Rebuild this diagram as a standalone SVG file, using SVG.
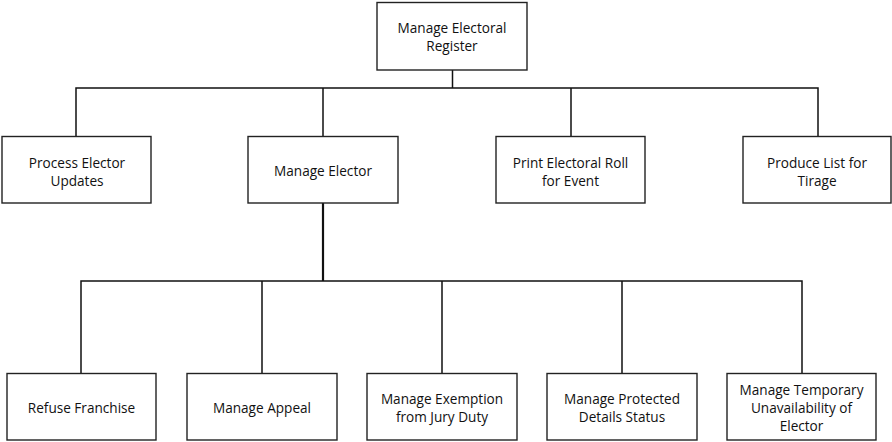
<svg xmlns="http://www.w3.org/2000/svg" width="892" height="442" viewBox="0 0 892 442">
<style>
.box{fill:#fff;stroke:#222;stroke-width:1.4}
.t{font-family:"Open Sans","Liberation Sans",Arial,sans-serif;font-size:13.6px;fill:#111;text-anchor:middle;dominant-baseline:central}
.c{fill:none;stroke:#111;stroke-width:1.5}
.thick{stroke-width:2.2}
</style>
<rect width="892" height="442" fill="#fff"/>
<g id="connectors">
<path class="c" d="M452.5 70V88M76 136V88H818V136M323 88V136M571 88V136"/>
<path class="c thick" d="M323 203V281"/>
<path class="c" d="M81 373V281H802V373M262 281V373M442 281V373M622 281V373"/>
</g>
<g id="n-root"><rect class="box" x="377" y="2.5" width="150" height="67.5"/><text class="t" x="452" y="27">Manage Electoral</text><text class="t" x="452" y="45">Register</text></g>
<g id="n-process"><rect class="box" x="2" y="136.5" width="149" height="66.5"/><text class="t" x="77" y="162">Process Elector</text><text class="t" x="77" y="180">Updates</text></g>
<g id="n-elector"><rect class="box" x="248" y="136.5" width="150" height="66.5"/><text class="t" x="323" y="170">Manage Elector</text></g>
<g id="n-print"><rect class="box" x="496" y="136.5" width="149" height="66.5"/><text class="t" x="570.5" y="162">Print Electoral Roll</text><text class="t" x="570.5" y="180">for Event</text></g>
<g id="n-produce"><rect class="box" x="743" y="136.5" width="148" height="66.5"/><text class="t" x="817" y="162">Produce List for</text><text class="t" x="817" y="180">Tirage</text></g>
<g id="n-refuse"><rect class="box" x="7" y="373.5" width="149" height="66.5"/><text class="t" x="81.5" y="407">Refuse Franchise</text></g>
<g id="n-appeal"><rect class="box" x="187" y="373.5" width="150" height="66.5"/><text class="t" x="262" y="407">Manage Appeal</text></g>
<g id="n-exemption"><rect class="box" x="367" y="373.5" width="150" height="66.5"/><text class="t" x="442" y="398">Manage Exemption</text><text class="t" x="442" y="416">from Jury Duty</text></g>
<g id="n-protected"><rect class="box" x="547" y="373.5" width="150" height="66.5"/><text class="t" x="622" y="398">Manage Protected</text><text class="t" x="622" y="416">Details Status</text></g>
<g id="n-temporary"><rect class="box" x="727" y="373.5" width="149" height="66.5"/><text class="t" x="801.5" y="389">Manage Temporary</text><text class="t" x="801.5" y="407">Unavailability of</text><text class="t" x="801.5" y="425">Elector</text></g>
</svg>
